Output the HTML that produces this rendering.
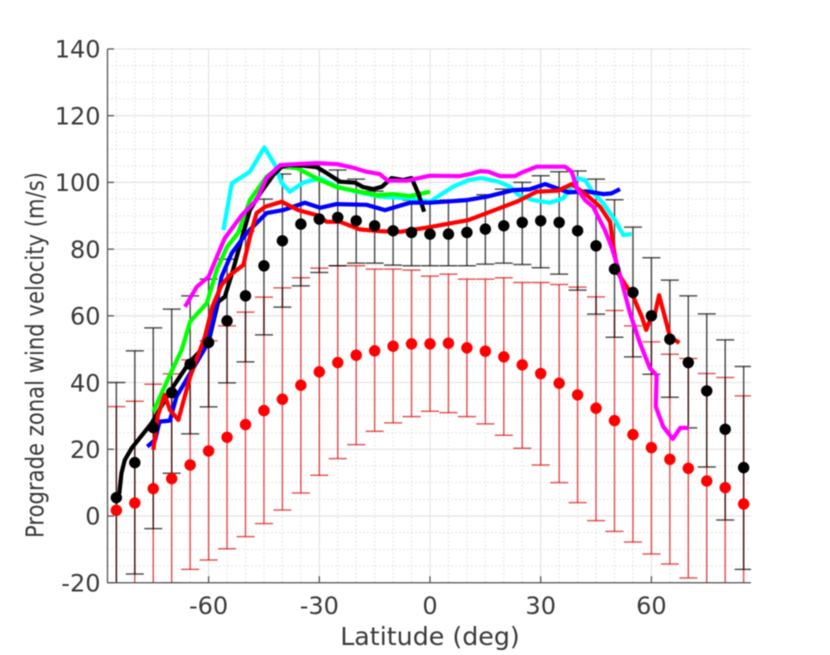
<!DOCTYPE html>
<html lang="en">
<head>
<meta charset="utf-8">
<title>Prograde zonal wind velocity vs latitude</title>
<style>
html,body{margin:0;padding:0;background:#fff;width:830px;height:655px;overflow:hidden}
svg{display:block;filter:blur(0.6px)}
text{font-family:"DejaVu Sans","Liberation Sans",sans-serif;fill:#3a3a3a}
</style>
</head>
<body>
<svg id="chart" xmlns="http://www.w3.org/2000/svg" width="830" height="655" viewBox="0 0 830 655">
<defs><clipPath id="plot-clip"><rect x="107.5" y="47" width="643.5" height="536"/></clipPath></defs>
</svg>
<script>
const xTicks = [-60, -30, 0, 30, 60];
const yTicks = [-20, 0, 20, 40, 60, 80, 100, 120, 140];
const latitudes = [-85,-80,-75,-70,-65,-60,-55,-50,-45,-40,-35,-30,-25,-20,-15,-10,-5,0,5,10,15,20,25,30,35,40,45,50,55,60,65,70,75,80,85];
const blackMean = [5.5,16,26.5,37,45.5,52,58.5,66,75,82.5,87.5,89,89.5,88.5,87,85.5,85,84.5,84.5,85,86,87,88,88.5,88,85.5,81,74,67,60,53,46,37.5,26,14.5];
const blackUpper = [40,49.5,56.4,62,66,71,77,85.4,95,102.5,105.5,105.5,103.7,101,97.4,96,94.7,94.5,94.7,95,96.3,98,100,102,103.2,103.4,101,94.8,86.6,77.4,70.7,66,60.6,52.8,44.8];
const blackLower = [-29,-17.4,-3.8,12.8,24.6,32.7,39.9,46.2,54.3,62.6,69,73,75,75.8,75.8,75.2,75,75,75,75,75.5,75.8,75.4,74.4,72.5,67.7,60.5,53.6,47.7,42.5,35.6,26.4,14.7,-1.2,-16];
const redMean = [1.7,3.9,8.2,11.2,15.3,19.5,23.6,27.4,31.6,35,39.2,43.2,46,48.2,49.5,50.9,51.6,51.6,51.8,50.4,49.4,47.7,45.3,42.7,39.8,36.3,32.3,28.6,24.4,20.5,17,14.3,10.5,8.5,3.6];
const redUpper = [32.8,34.4,39.5,42.6,46.8,52.5,57,61.1,65.6,68.4,71.4,74.3,75,75,74,74,73.7,71.9,72.5,71,71,71.4,70,70,69.4,68.6,65.7,61.6,57,52.2,48.5,47.2,42.7,41.5,36];
const redLower = [-32,-30,-25,-20,-16,-13.2,-9.8,-6.2,-2.3,1.8,6.9,12.2,17.2,21.4,25.4,27.9,29.8,31.4,31,29.8,27.6,24.2,20.3,15.3,10,4,-1.4,-4.6,-7.8,-11.4,-14.4,-18.6,-24,-27,-29];

const cyanLat = [-56,-53.7,-48.8,-44.9,-42,-40.2,-38,-34.4,-29.8,-25.3,-19.9,-13.6,-6.3,0,2.7,6.3,10.4,14,18.5,21.7,24,28,32.5,36.2,39.8,42,44.3,47,50.1,52.4,54.6];
const cyanWind = [85.7,99.7,103.2,110.5,105.2,99.8,97.2,99.9,101.3,98.7,97.2,95.7,95.3,94.2,96.2,98.7,100.7,101.3,100.2,98.7,96.2,94.7,93.9,95.3,101.3,100.7,96.8,93.7,88.7,84.2,84.5];
const greenLat = [-75,-70.5,-67.3,-65,-60.5,-57.8,-55,-52,-48.8,-44.3,-40.6,-36,-29.8,-25.3,-19.9,-14.4,-10,-5.4,0];
const greenWind = [31.3,42.3,49.8,58.3,63.8,73.7,80.7,84.8,94.7,101.7,104.7,104.3,100.7,98.6,97.4,96.2,96.5,95.9,97.2];
const blueLat = [-76.6,-74.5,-73.3,-70.5,-68.7,-65.5,-60.5,-58.7,-56.5,-53.7,-49.7,-44.3,-39.8,-33.9,-29.8,-25.3,-17.2,-12.2,-5.4,0,10,15.4,22.6,27,31.2,37.5,42.5,47,49.2,51.5];
const blueWind = [20.8,22.8,28.3,28.6,35.8,41.8,51.2,58.7,71.7,78.8,84.8,90.8,91.7,93.9,92.4,93.5,93.3,91.7,93.9,93.9,94.7,95.7,97.7,97.9,99.5,97,97.3,96.5,96.7,98];
const blackCurveLat = [-85.3,-84.2,-83.6,-82.7,-80.8,-75.4,-70.5,-65.3,-60,-57.4,-55.6,-53.4,-50.6,-48.8,-46,-42.5,-40.2,-38,-34.4,-30.7,-28,-24.4,-20.3,-18.1,-15.4,-13,-10.4,-7.3,-5,-3.2,-1.6];
const blackCurveWind = [3.8,6.9,12.9,16.8,20.4,27.9,37.3,45.9,52.2,64.2,65.7,73.7,84.8,91.7,96.8,102.2,104.7,105.2,105,104.6,102.8,100.2,99.9,98.6,98,98.7,101.3,100.7,101.3,96.8,91.2];
const redCurveLat = [-75,-73.7,-71.9,-70.5,-68.2,-65,-61,-59,-56.5,-54.2,-50.6,-48.8,-47,-44.7,-40.2,-35.7,-30.7,-28,-24.4,-19,-13.6,-8.1,0,10.4,16.3,23.5,28.9,34.7,38.4,42.5,46.1,48.8,49.7,51,55.1,57.4,58.6,60,61,62.1,64.1,65,67.6];
const redCurveWind = [19.8,30.3,36.3,31.8,28.8,41.8,53.7,62.7,69.2,72.2,75.2,83.7,90.8,92.7,94.2,91.7,90.2,88.2,88.2,85.9,85.4,85.2,86.6,88.7,91.2,94.2,97.2,97.5,99.5,96.2,92.7,88.2,80.7,72.7,65.7,59.7,55.8,59.7,60.8,66.2,57.8,53.7,51.9];
const magentaLat = [-66.4,-63.2,-60,-57.4,-55.6,-51,-47,-44.3,-40.6,-36,-30.7,-25.3,-20.8,-17.2,-13.6,-11.4,-6.3,0,8.1,10.8,13.6,15.8,19,23,24.8,28.9,36.6,38.4,39.8,42,44.2,47.4,49.2,51,54.2,56.9,59.6,61.4,61.2,63.2,65.8,67.8,70.2];
const magentaWind = [62.7,68.7,71.7,78.7,83.3,90.2,94.7,101.3,105.2,105.5,105.8,105.5,104.4,103.2,102.5,100.5,100.5,102,101.9,102.5,103.4,103.2,101.9,101.9,102.9,104.7,104.7,103.2,98.2,94.7,92.7,85.7,80.7,74.3,60.8,51.8,44.3,42.2,32.8,26.8,23.1,26.4,26.4];

const svgNS = 'http://www.w3.org/2000/svg';
const svg = document.getElementById('chart');
function xScale(lat){ return 430 + lat * 3.69; }
function yScale(v){ return 516 - v * 3.336; }
function make(tag, attrs, parent){
  const el = document.createElementNS(svgNS, tag);
  for (const k in attrs) el.setAttribute(k, attrs[k]);
  parent.appendChild(el);
  return el;
}

// grid
const grid = make('g', {}, svg);


for (let lat = -85; lat <= 85; lat += 5) {
  if (lat % 30 === 0) continue;
  make('line', {x1:xScale(lat), x2:xScale(lat), y1:yScale(140), y2:yScale(-20), stroke:'#cfcfcf', 'stroke-width':1, 'stroke-dasharray':'1 3'}, grid);
}
for (let v = -20; v <= 140; v += 5) {
  if (v % 20 === 0) continue;
  make('line', {x1:107.5, x2:751, y1:yScale(v), y2:yScale(v), stroke:'#cfcfcf', 'stroke-width':1, 'stroke-dasharray':'1 3'}, grid);
}
xTicks.forEach(function(t){
  make('line', {x1:xScale(t), x2:xScale(t), y1:yScale(140), y2:yScale(-20), stroke:'#e4e4e4', 'stroke-width':1.2}, grid);
});
yTicks.forEach(function(t){
  make('line', {x1:107.5, x2:751, y1:yScale(t), y2:yScale(t), stroke:'#e4e4e4', 'stroke-width':1.2}, grid);
});

const plot = make('g', {'clip-path':'url(#plot-clip)'}, svg);



function drawBars(lowers, uppers, color, opacity, name){
  const g = make('g', {stroke:color, 'stroke-width':1.5, 'stroke-opacity':opacity, fill:'none'}, plot);
  
  
  latitudes.forEach(function(lat, i){
    const x = xScale(lat), yu = yScale(uppers[i]), yl = yScale(lowers[i]);
    make('line', {x1:x, x2:x, y1:yu, y2:yl}, g);
    make('line', {x1:x-9, x2:x+9, y1:yu, y2:yu}, g);
    make('line', {x1:x-9, x2:x+9, y1:yl, y2:yl}, g);
  });
}
drawBars(redLower, redUpper, '#d90000', 0.65, 'red-error-bars');
drawBars(blackLower, blackUpper, '#000000', 0.68, 'black-error-bars');

function drawCurve(lats, winds, color, name){
  const d = lats.map(function(lat, i){
    return (i ? 'L' : 'M') + xScale(lat).toFixed(1) + ' ' + yScale(winds[i]).toFixed(1);
  }).join(' ');
  const p = make('path', {d:d, fill:'none', stroke:color, 'stroke-width':4.2, 'stroke-linejoin':'round', 'stroke-linecap':'butt'}, plot);
  
  
}
drawCurve(cyanLat, cyanWind, '#00ffff', 'cyan-profile');
drawCurve(greenLat, greenWind, '#00ff00', 'green-profile');
drawCurve(blackCurveLat, blackCurveWind, '#000000', 'black-profile');
drawCurve(blueLat, blueWind, '#0000ff', 'blue-profile');
drawCurve(redCurveLat, redCurveWind, '#ff0000', 'red-profile');
drawCurve(magentaLat, magentaWind, '#ff00ff', 'magenta-profile');

function drawDots(values, color, name){
  const g = make('g', {fill:color}, svg);
  
  
  latitudes.forEach(function(lat, i){
    make('circle', {cx:xScale(lat), cy:yScale(values[i]), r:5.7}, g);
  });
}
drawDots(blackMean, '#000000', 'black-mean-points');
drawDots(redMean, '#ff0000', 'red-mean-points');

// axes
const axes = make('g', {stroke:'#555', 'stroke-width':1.3, fill:'none'}, svg);


make('line', {x1:107.5, x2:107.5, y1:yScale(140), y2:yScale(-20)}, axes);
make('line', {x1:107, x2:751, y1:yScale(-20), y2:yScale(-20)}, axes);
xTicks.forEach(function(t){
  make('line', {x1:xScale(t), x2:xScale(t), y1:yScale(-20), y2:yScale(-20)-6.5}, axes);
});
yTicks.forEach(function(t){
  make('line', {x1:107.5, x2:114, y1:yScale(t), y2:yScale(t)}, axes);
});

xTicks.forEach(function(t){
  const el = make('text', {x:xScale(t), y:614, 'text-anchor':'middle', 'font-size':24}, svg);
  
  
  el.textContent = String(t);
});
yTicks.forEach(function(t){
  const el = make('text', {x:100.5, y:yScale(t)+8.7, 'text-anchor':'end', 'font-size':24}, svg);
  
  
  el.textContent = String(t);
});
</script>
<script>
(function(){
  var s = document.getElementById('chart');
  var ns = 'http://www.w3.org/2000/svg';
  var xl = document.createElementNS(ns, 'text');
  xl.setAttribute('x', '430');
  xl.setAttribute('y', '645');
  xl.setAttribute('text-anchor', 'middle');
  xl.setAttribute('font-size', '25.3');
  
  
  xl.textContent = 'Latitude (deg)';
  s.appendChild(xl);
  var yl = document.createElementNS(ns, 'text');
  yl.setAttribute('transform', 'translate(43.5,355) rotate(-90)');
  yl.setAttribute('text-anchor', 'middle');
  yl.setAttribute('font-size', '25');
  yl.setAttribute('textLength', '366');
  yl.setAttribute('lengthAdjust', 'spacingAndGlyphs');
  
  
  yl.textContent = 'Prograde zonal wind velocity (m/s)';
  s.appendChild(yl);
})();
</script>
</body>
</html>
